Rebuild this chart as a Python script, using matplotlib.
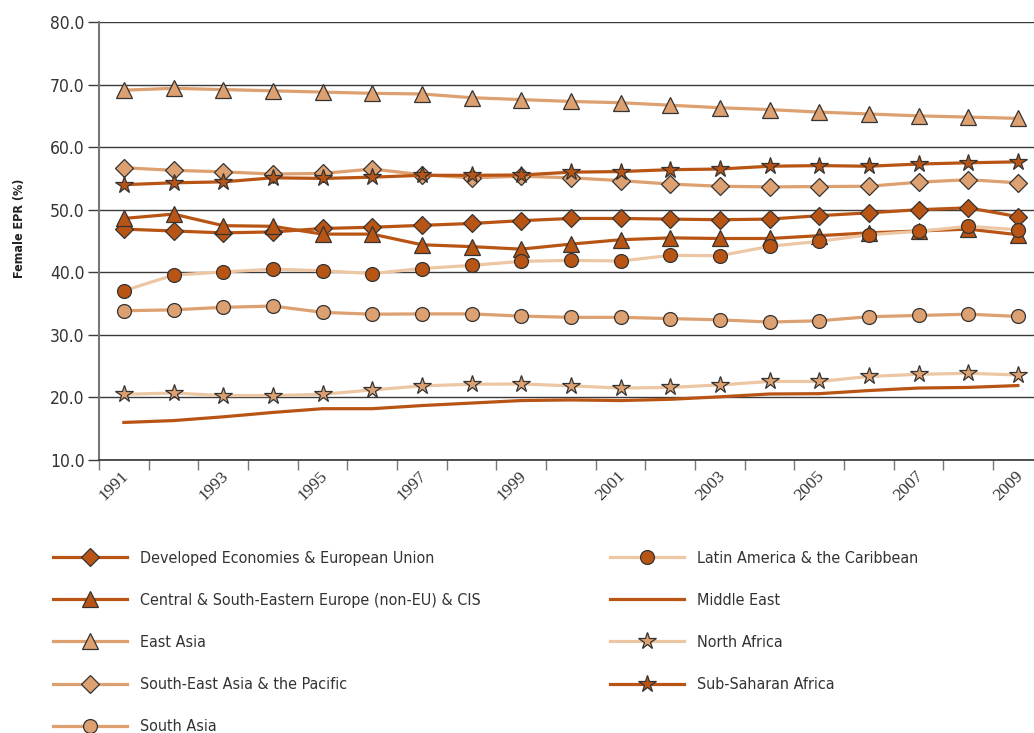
import matplotlib
matplotlib.use("Agg")
import matplotlib.pyplot as plt
from matplotlib import font_manager as fm
from matplotlib.lines import Line2D

years = list(range(1991, 2010))

developed = [46.9, 46.6, 46.3, 46.45, 47.0, 47.2, 47.5, 47.8, 48.25, 48.6, 48.6, 48.5, 48.4, 48.5, 49.05, 49.5, 50.0, 50.3, 48.9]
central_europe = [48.6, 49.3, 47.45, 47.35, 46.1, 46.1, 44.4, 44.1, 43.7, 44.5, 45.2, 45.5, 45.4, 45.4, 45.85, 46.3, 46.6, 46.9, 46.0]
east_asia = [69.1, 69.4, 69.2, 69.0, 68.8, 68.6, 68.5, 67.9, 67.6, 67.3, 67.1, 66.7, 66.3, 66.0, 65.6, 65.3, 65.0, 64.8, 64.6]
se_asia = [56.7, 56.3, 56.05, 55.7, 55.8, 56.5, 55.6, 55.1, 55.35, 55.1, 54.65, 54.1, 53.75, 53.65, 53.7, 53.75, 54.4, 54.8, 54.3]
south_asia = [33.85, 34.0, 34.4, 34.6, 33.6, 33.3, 33.35, 33.35, 33.0, 32.8, 32.8, 32.6, 32.4, 32.05, 32.25, 32.9, 33.1, 33.3, 32.95]
latin_america = [37.05, 39.55, 40.05, 40.5, 40.25, 39.8, 40.6, 41.1, 41.75, 41.9, 41.8, 42.7, 42.65, 44.15, 44.95, 46.0, 46.55, 47.35, 46.8]
middle_east = [16.0, 16.3, 16.9, 17.6, 18.2, 18.2, 18.7, 19.1, 19.5, 19.6, 19.5, 19.7, 20.1, 20.55, 20.6, 21.1, 21.5, 21.6, 21.9]
north_africa = [20.5, 20.7, 20.3, 20.3, 20.5, 21.2, 21.85, 22.1, 22.15, 21.85, 21.5, 21.6, 22.0, 22.55, 22.55, 23.35, 23.7, 23.85, 23.6]
sub_saharan = [54.0, 54.3, 54.45, 55.1, 55.0, 55.2, 55.5, 55.5, 55.55, 56.0, 56.1, 56.4, 56.5, 56.95, 57.05, 56.95, 57.3, 57.5, 57.65]

names = ["Developed Economies & European Union",
         "Central & South-Eastern Europe (non-EU) & CIS",
         "East Asia",
         "South-East Asia & the Pacific",
         "South Asia",
         "Latin America & the Caribbean",
         "Middle East",
         "North Africa",
         "Sub-Saharan Africa"]

yticks = [10, 20, 30, 40, 50, 60, 70, 80]

DARK = "#B95514"
MID = "#DDA070"
PALE = "#EDC6A4"
EDGE = "#333333"


def wnum(w):
    if isinstance(w, int):
        return w
    table = {'normal': 400, 'regular': 400, 'book': 400, 'medium': 500,
             'bold': 700, 'light': 300, 'semibold': 600, 'demibold': 600}
    return table.get(str(w).lower(), 400)


entries = fm.fontManager.ttflist


def find_narrow(target_weight):
    best = None
    for f in entries:
        nm = f.name + ' ' + f.fname
        if ('Narrow' in nm or 'Condensed' in nm or str(f.stretch) == 'condensed') \
                and f.style == 'normal' and 'Mono' not in nm:
            d = abs(wnum(f.weight) - target_weight)
            if best is None or d < best[0]:
                best = (d, f)
    return best[1] if best else None


reg = find_narrow(400)
bold = find_narrow(700)
if reg is not None:
    SANS = fm.FontProperties(fname=reg.fname)
    SANS_B = fm.FontProperties(fname=bold.fname) if bold is not None else SANS
    scale = 1.0
else:
    SANS = fm.FontProperties(family='Liberation Sans')
    SANS_B = fm.FontProperties(family='Liberation Sans', weight='bold')
    scale = 0.84

serif = 'Liberation Serif'

plt.rcParams['font.family'] = ['Liberation Sans', 'DejaVu Sans']

fig = plt.figure(figsize=(10.34, 7.33), dpi=100)
W, H = 1034, 733
ax = fig.add_axes([99 / W, 1 - 460 / H, 19 * 49.67 / W, (460 - 22) / H])

x = list(range(len(years)))

styles = [
    (developed, DARK, DARK, 'D', 9),
    (central_europe, DARK, DARK, '^', 11),
    (east_asia, MID, MID, '^', 11),
    (se_asia, MID, MID, 'D', 9),
    (south_asia, MID, MID, 'o', 10),
    (latin_america, PALE, DARK, 'o', 10),
    (middle_east, DARK, None, None, 0),
    (north_africa, PALE, MID, '*', 13),
    (sub_saharan, DARK, DARK, '*', 13),
]

LW = 2.3
handles = []
for (vals, lc, mc, mk, ms), name in zip(styles, names):
    if mk is None:
        ax.plot(x, vals, color=lc, lw=LW, zorder=3)
        h = Line2D([], [], color=lc, lw=LW)
    else:
        ax.plot(x, vals, color=lc, lw=LW, marker=mk, ms=ms, mfc=mc,
                mec=EDGE, mew=0.9, zorder=3)
        h = Line2D([], [], color=lc, lw=LW, marker=mk, ms=ms, mfc=mc,
                   mec=EDGE, mew=0.9)
    handles.append(h)

ax.set_xlim(-0.5, len(years) - 0.5)
ax.set_ylim(10, 80)
ax.set_yticks(yticks)
ax.set_yticklabels([f"{v:.1f}" for v in yticks])
for lab in ax.get_yticklabels():
    lab.set_fontproperties(SANS)
    lab.set_fontsize(12.5 * scale)
    lab.set_color("#333333")
ax.yaxis.grid(True, color="#3a3a3a", lw=1.0, zorder=1)
ax.set_axisbelow(True)
ax.tick_params(axis='y', length=8, width=1.0, color="#3a3a3a", pad=2.5)

ax.set_xticks([i - 0.5 for i in range(len(years) + 1)])
ax.set_xticklabels([])
ax.tick_params(axis='x', direction='out', length=7, width=1.0, color="#777777")
for i, yr in enumerate(years):
    if yr % 2 == 1:
        ax.text(i - 0.06, 8.7, str(yr), rotation=45, ha='right', va='top',
                rotation_mode='anchor', fontsize=12.5, family=serif,
                color="#333333", transform=ax.transData, clip_on=False)

for s in ['top', 'right']:
    ax.spines[s].set_visible(False)
ax.spines['left'].set_color("#777777")
ax.spines['left'].set_linewidth(1.5)
ax.spines['bottom'].set_color("#333333")
ax.spines['bottom'].set_linewidth(1.2)

yl_fp = SANS_B.copy()
yl_fp.set_size(9.0 * scale / 0.84 if scale < 1 else 9.0)
yl_fp.set_weight('bold')
fig.text(20 / W, 1 - 228 / H, "Female EPR (%)", rotation=90, ha='center',
         va='center', color="#222222", fontproperties=yl_fp)

# legend: two columns
leg_size = 11.5 * scale
leg_fp = SANS.copy()
leg_fp.set_size(leg_size)
fs_px = leg_size * 100 / 72
row_h = 41.8
text_h = 0.915 * fs_px
order_left = [0, 1, 2, 3, 4]
order_right = [5, 6, 7, 8]
common = dict(loc='upper left', frameon=False, prop=leg_fp,
              handlelength=74 / fs_px, handletextpad=13 / fs_px,
              labelspacing=(row_h - text_h) / fs_px, labelcolor="#333333",
              borderpad=0, borderaxespad=0)
top = 558 - text_h / 2
leg1 = fig.legend([handles[i] for i in order_left], [names[i] for i in order_left],
                  bbox_to_anchor=(53 / W, 1 - top / H), **common)
leg2 = fig.legend([handles[i] for i in order_right], [names[i] for i in order_right],
                  bbox_to_anchor=(610 / W, 1 - top / H), **common)

fig.savefig("out.png", dpi=100)
